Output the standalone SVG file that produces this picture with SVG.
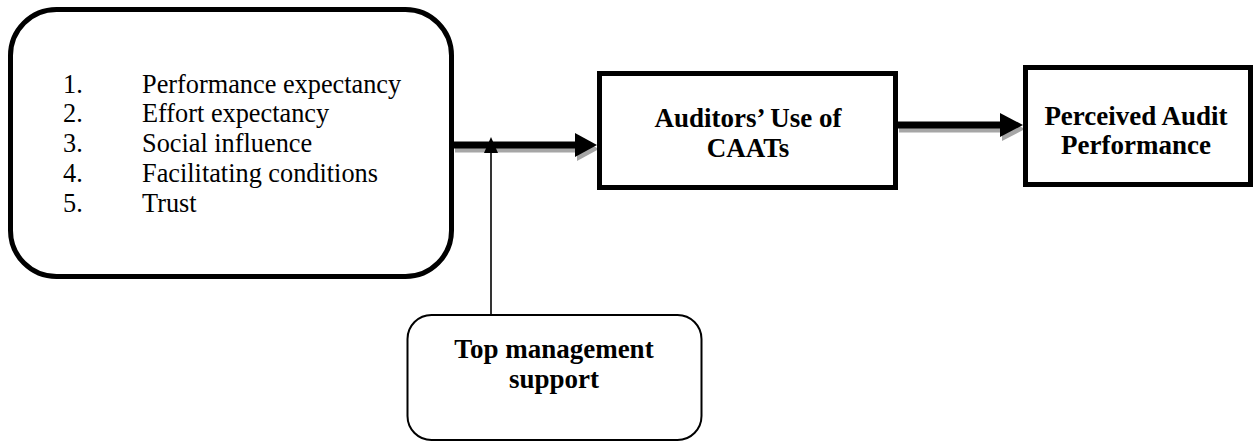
<svg xmlns="http://www.w3.org/2000/svg" width="1254" height="443" viewBox="0 0 1254 443">
<style>
.reg{font-family:"Liberation Serif","Times New Roman",serif;font-size:26.3px;fill:#000}
.bold{font-family:"Liberation Serif","Times New Roman",serif;font-size:27px;font-weight:bold;fill:#000;text-anchor:middle}
.box{fill:#fff;stroke:#000}
.shadow{fill:#a6a6a6}
</style>
<rect width="1254" height="443" fill="#fff"/>
<g id="connectors">
  <g id="shadows" class="shadow" transform="translate(2,4)">
    <rect x="453" y="141.5" width="124" height="7"/>
    <polygon points="575,133 597,145 575,157"/>
    <rect x="897" y="121.5" width="105" height="7"/>
    <polygon points="1000,113 1023,125 1000,137"/>
  </g>
  <g id="arrow1">
    <rect x="453" y="141.5" width="124" height="7" fill="#000"/>
    <polygon points="575,133 597,145 575,157" fill="#000"/>
  </g>
  <g id="arrow2">
    <rect x="897" y="121.5" width="105" height="7" fill="#000"/>
    <polygon points="1000,113 1023,125 1000,137" fill="#000"/>
  </g>
  <g id="arrow3">
    <line x1="491" y1="150" x2="491" y2="315" stroke="#000" stroke-width="1.6"/>
    <polygon points="491,137 484,153 498,153" fill="#000"/>
  </g>
</g>
<g id="node-factors">
  <rect class="box" x="10.5" y="9.5" width="441" height="267" rx="46" stroke-width="5"/>
  <text class="reg" x="63" y="93">1.</text><text class="reg" x="142" y="93">Performance expectancy</text>
  <text class="reg" x="63" y="122">2.</text><text class="reg" x="142" y="122">Effort expectancy</text>
  <text class="reg" x="63" y="152">3.</text><text class="reg" x="142" y="152">Social influence</text>
  <text class="reg" x="63" y="182">4.</text><text class="reg" x="142" y="182">Facilitating conditions</text>
  <text class="reg" x="63" y="212">5.</text><text class="reg" x="142" y="212">Trust</text>
</g>
<g id="node-caats">
  <rect class="box" x="599.5" y="73.5" width="296" height="114" stroke-width="5"/>
  <text class="bold" x="748" y="127">Auditors’ Use of</text>
  <text class="bold" x="748" y="157">CAATs</text>
</g>
<g id="node-performance">
  <rect class="box" x="1025.5" y="67.5" width="225" height="117" stroke-width="5"/>
  <text class="bold" x="1136" y="125">Perceived Audit</text>
  <text class="bold" x="1136" y="154">Performance</text>
</g>
<g id="node-topmgmt">
  <rect class="box" x="407.5" y="315" width="294" height="125" rx="24" stroke-width="2"/>
  <text class="bold" x="554" y="358">Top management</text>
  <text class="bold" x="554" y="388">support</text>
</g>
</svg>
